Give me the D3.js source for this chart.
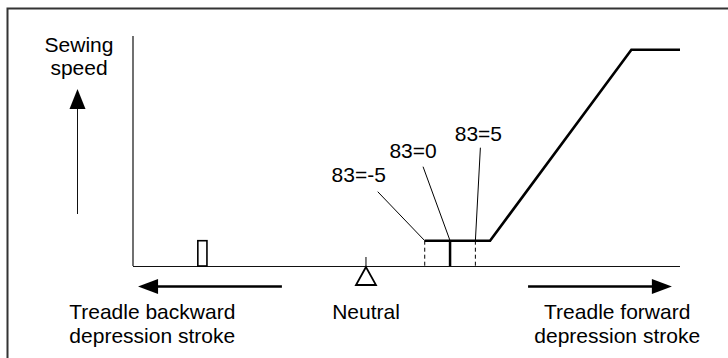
<!DOCTYPE html>
<html>
<head>
<meta charset="utf-8">
<script src="https://cdn.jsdelivr.net/npm/d3@7"></script>
<style>
  html, body { margin: 0; padding: 0; background: #fff; }
  svg { display: block; font-family: "Liberation Sans", Arial, Helvetica, sans-serif; }
</style>
</head>
<body>
<svg id="chart" width="728" height="358"></svg>
<script>
// Treadle stroke (0 = neutral) and the resulting sewing speed (% of max)
const curveStroke = [11.6, 24.5, 52.4, 62];
const curveSpeed  = [11, 11, 94, 94];

// Parameter 83 switch points along the forward stroke
const param83Values = [-5, 0, 5];
const param83Stroke = [11.6, 16.6, 21.6];
const param83Labels = ["83=-5", "83=0", "83=5"];

// Short backward tap (reverse-feed pulse)
const backTapStroke = [-33.2, -31.4];
const backTapSpeed  = 11;

const neutralStroke = 0;
const strokeDomain = [-46, 62];
const speedDomain  = [0, 100];

const axisTitle = ["Sewing", "speed"];
const backLabel = ["Treadle backward", "depression stroke"];
const fwdLabel  = ["Treadle forward", "depression stroke"];
const neutralLabel = "Neutral";

// ---- layout ----
const svg = d3.select("#chart");
const x = d3.scaleLinear().domain(strokeDomain).range([133, 680]);
const y = d3.scaleLinear().domain(speedDomain).range([266, 36]);
const base = y(0);
const FS = 21;

// outer frame (open to the right and bottom)
svg.append("path")
  .attr("d", "M7.5,358 V8.5 H728")
  .attr("fill", "none").attr("stroke", "#333").attr("stroke-width", 2);

// axes
svg.append("line")
  .attr("x1", x(strokeDomain[0])).attr("x2", x(strokeDomain[0]))
  .attr("y1", y(speedDomain[1])).attr("y2", base)
  .attr("stroke", "#111").attr("stroke-width", 1.2);
svg.append("line")
  .attr("x1", x(strokeDomain[0])).attr("x2", x(strokeDomain[1]))
  .attr("y1", base + 0.5).attr("y2", base + 0.5)
  .attr("stroke", "#111").attr("stroke-width", 1.2);

// axis title with upward arrow
const titleX = 79;
svg.append("text").attr("x", titleX).attr("y", 52).attr("text-anchor", "middle")
  .attr("font-size", FS).text(axisTitle[0]);
svg.append("text").attr("x", titleX).attr("y", 75).attr("text-anchor", "middle")
  .attr("font-size", FS).text(axisTitle[1]);
const upX = 77.5;
svg.append("line").attr("x1", upX).attr("x2", upX).attr("y1", 214).attr("y2", 105)
  .attr("stroke", "#111").attr("stroke-width", 1);
svg.append("path").attr("d", `M${upX},89 L${upX - 8},109 L${upX + 8},109 Z`).attr("fill", "#000");

// dashed guides at 83=-5 and 83=5
[0, 2].forEach(i => {
  svg.append("line")
    .attr("x1", x(param83Stroke[i])).attr("x2", x(param83Stroke[i]))
    .attr("y1", y(curveSpeed[0])).attr("y2", base)
    .attr("stroke", "#000").attr("stroke-width", 1)
    .attr("stroke-dasharray", "4,3");
});

// solid marker at 83=0
svg.append("line")
  .attr("x1", x(param83Stroke[1])).attr("x2", x(param83Stroke[1]))
  .attr("y1", y(curveSpeed[0])).attr("y2", base)
  .attr("stroke", "#000").attr("stroke-width", 2.5);

// speed curve
const line = d3.line().x(d => x(d[0])).y(d => y(d[1]));
svg.append("path")
  .datum(curveStroke.map((s, i) => [s, curveSpeed[i]]))
  .attr("d", line)
  .attr("fill", "none").attr("stroke", "#000").attr("stroke-width", 2.6)
  .attr("stroke-linejoin", "miter");

// backward tap pulse
svg.append("rect")
  .attr("x", x(backTapStroke[0])).attr("y", y(backTapSpeed))
  .attr("width", x(backTapStroke[1]) - x(backTapStroke[0]))
  .attr("height", base - y(backTapSpeed))
  .attr("fill", "#fff").attr("stroke", "#000").attr("stroke-width", 1.6);

// leader lines and labels for parameter 83
const leaderEnd = [[-47, -49], [-27, -74], [5, -93]];
const labelPos  = [[-66, -59], [-37, -83], [3, -100]];
param83Values.forEach((v, i) => {
  const px = x(param83Stroke[i]), py = y(curveSpeed[0]);
  svg.append("line")
    .attr("x1", px).attr("y1", py)
    .attr("x2", px + leaderEnd[i][0]).attr("y2", py + leaderEnd[i][1])
    .attr("stroke", "#000").attr("stroke-width", 1);
  svg.append("text")
    .attr("x", px + labelPos[i][0]).attr("y", py + labelPos[i][1])
    .attr("text-anchor", "middle").attr("font-size", FS)
    .text(param83Labels[i]);
});

// neutral marker
const nx = x(neutralStroke);
svg.append("line").attr("x1", nx).attr("x2", nx).attr("y1", base - 9).attr("y2", base)
  .attr("stroke", "#000").attr("stroke-width", 1);
svg.append("path")
  .attr("d", `M${nx},${base + 1} L${nx - 10},${base + 19} L${nx + 10},${base + 19} Z`)
  .attr("fill", "#fff").attr("stroke", "#000").attr("stroke-width", 1.8)
  .attr("stroke-linejoin", "miter");
svg.append("text").attr("x", nx).attr("y", base + 53).attr("text-anchor", "middle")
  .attr("font-size", FS).text(neutralLabel);

// direction arrows
const arrowY = base + 20.5;
function arrow(fromS, tipS) {
  const x0 = x(fromS), xt = x(tipS);
  const dir = Math.sign(xt - x0);
  svg.append("line").attr("x1", x0).attr("x2", xt - dir * 12)
    .attr("y1", arrowY).attr("y2", arrowY)
    .attr("stroke", "#000").attr("stroke-width", 2.4);
  svg.append("path")
    .attr("d", `M${xt},${arrowY} L${xt - dir * 20},${arrowY - 7.5} L${xt - dir * 20},${arrowY + 7.5} Z`)
    .attr("fill", "#000");
}
arrow(-16.6, -45);
arrow(32, 60.4);

// direction labels, centred under their arrows' span
function twoLine(lines, cx) {
  lines.forEach((t, i) => {
    svg.append("text").attr("x", cx).attr("y", base + 53 + i * 23.5)
      .attr("text-anchor", "middle").attr("font-size", FS).text(t);
  });
}
twoLine(backLabel, x(-42.2));
twoLine(fwdLabel, x(49.6));
</script>
</body>
</html>
